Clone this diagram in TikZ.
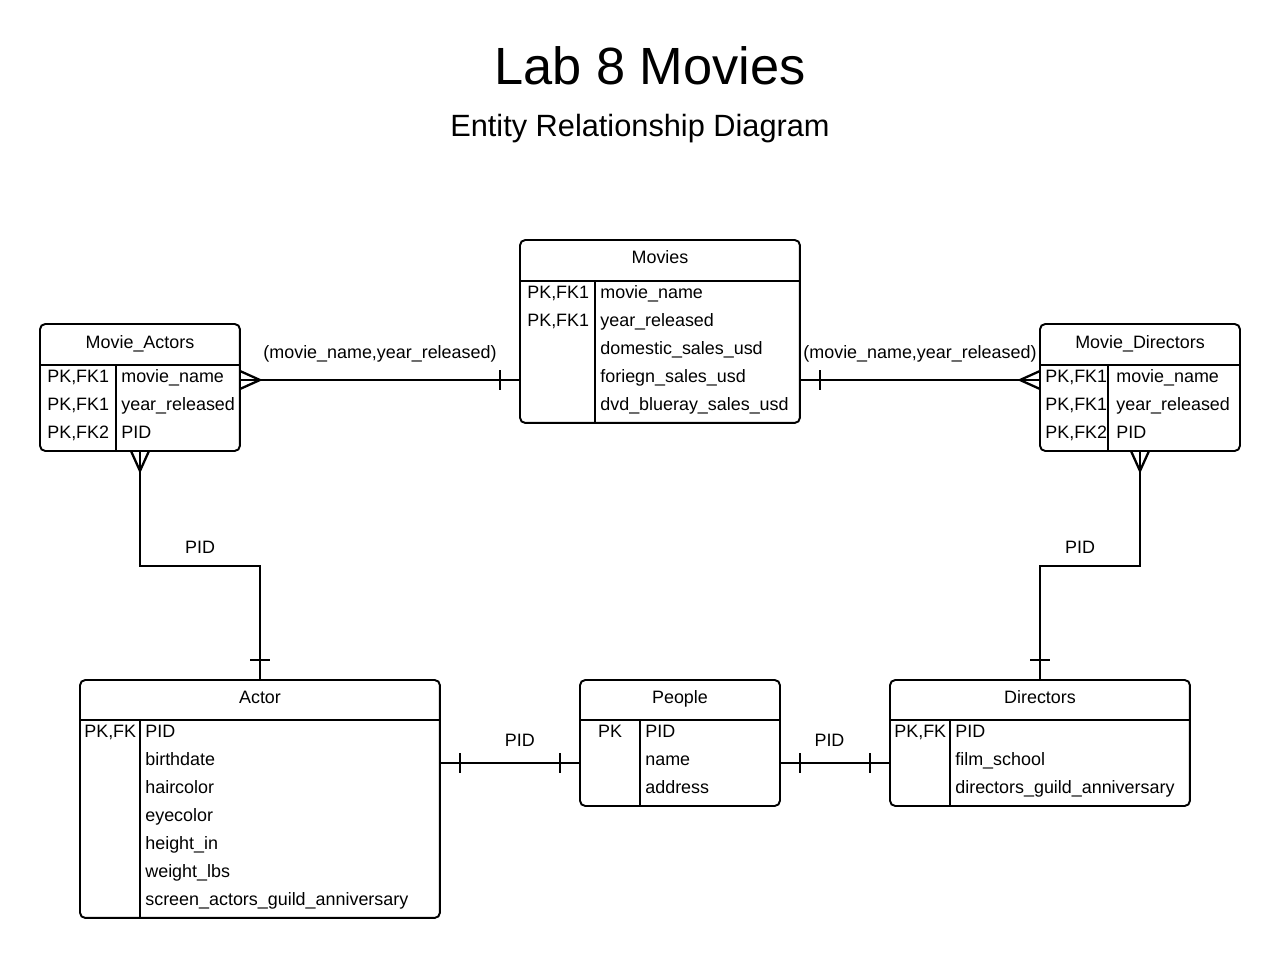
\documentclass[tikz,border=0pt]{standalone}
\usepackage{fontspec}
\setmainfont{Liberation Sans}
\newcommand{\rowfont}{\fontsize{10.2}{12}\selectfont}
\tikzset{Table/.style={%
    shape=rectangle,%
    draw=black,%
    rounded corners=3pt,%
    line width=1.1pt,%
    inner sep=0pt,%
    outer sep=0pt,%
    anchor=north west,%
}}
\tikzset{Rule/.style={%
    line width=1.1pt,%
}}
\tikzset{Head/.style={%
    anchor=base,%
    inner sep=0pt,%
    font=\rowfont,%
}}
\tikzset{Field/.style={%
    anchor=base west,%
    inner sep=0pt,%
    font=\rowfont,%
}}
\tikzset{Link/.style={%
    line width=1.3pt,%
}}
\tikzset{Label/.style={%
    inner sep=0pt,%
    text depth=0pt,%
    font=\rowfont,%
}}
\tikzset{onemark/.pic={\draw[Link] (0,-10) -- (0,10);}}
\tikzset{crowmark/.pic={\draw[Link] (0,-9) -- (20,0) -- (0,9);}}

\begin{document}
\begin{tikzpicture}[x=0.02cm,y=-0.02cm]
    \useasboundingbox (0,0) rectangle (1280,959);
    \node[anchor=base, font=\fontsize{29.8}{34}\selectfont] (title) at (650,85) {Lab 8 Movies};
    \node[anchor=base, font=\fontsize{17.5}{20}\selectfont] (subtitle) at (640,137) {Entity Relationship Diagram};

    % Movies
    \node[Table, minimum width=5.6cm, minimum height=3.66cm] (movies) at (520,240) {};
    \draw[Rule] (520,281) -- (800,281);
    \draw[Rule] (595,281) -- (595,423);
    \node[Head] (moviesHead) at (660,264) {Movies};
    \node[Field] (mvK1) at (527,298) {PK,FK1};
    \node[Field] (mvK2) at (527,326) {PK,FK1};
    \node[Field] (mvF1) at (600,298) {movie\_name};
    \node[Field] (mvF2) at (600,326) {year\_released};
    \node[Field] (mvF3) at (600,354) {domestic\_sales\_usd};
    \node[Field] (mvF4) at (600,382) {foriegn\_sales\_usd};
    \node[Field] (mvF5) at (600,410) {dvd\_blueray\_sales\_usd};

    % Movie_Actors
    \node[Table, minimum width=4cm, minimum height=2.54cm] (ma) at (40,324) {};
    \draw[Rule] (40,365) -- (240,365);
    \draw[Rule] (116,365) -- (116,451);
    \node[Head] (maHead) at (140,348) {Movie\_Actors};
    \node[Field] (maK1) at (47,382) {PK,FK1};
    \node[Field] (maK2) at (47,410) {PK,FK1};
    \node[Field] (maK3) at (47,438) {PK,FK2};
    \node[Field] (maF1) at (121,382) {movie\_name};
    \node[Field] (maF2) at (121,410) {year\_released};
    \node[Field] (maF3) at (121,438) {PID};

    % Movie_Directors
    \node[Table, minimum width=4cm, minimum height=2.54cm] (md) at (1040,324) {};
    \draw[Rule] (1040,365) -- (1240,365);
    \draw[Rule] (1108,365) -- (1108,451);
    \node[Head] (mdHead) at (1140,348) {Movie\_Directors};
    \node[Field] (mdK1) at (1045,382) {PK,FK1};
    \node[Field] (mdK2) at (1045,410) {PK,FK1};
    \node[Field] (mdK3) at (1045,438) {PK,FK2};
    \node[Field] (mdF1) at (1116,382) {movie\_name};
    \node[Field] (mdF2) at (1116,410) {year\_released};
    \node[Field] (mdF3) at (1116,438) {PID};

    % Actor
    \node[Table, minimum width=7.2cm, minimum height=4.76cm] (actor) at (80,680) {};
    \draw[Rule] (80,720) -- (440,720);
    \draw[Rule] (140,720) -- (140,918);
    \node[Head] (actorHead) at (260,703) {Actor};
    \node[Field] (acK1) at (84,737) {PK,FK};
    \node[Field] (acF1) at (145,737) {PID};
    \node[Field] (acF2) at (145,765) {birthdate};
    \node[Field] (acF3) at (145,793) {haircolor};
    \node[Field] (acF4) at (145,821) {eyecolor};
    \node[Field] (acF5) at (145,849) {height\_in};
    \node[Field] (acF6) at (145,877) {weight\_lbs};
    \node[Field] (acF7) at (145,905) {screen\_actors\_guild\_anniversary};

    % People
    \node[Table, minimum width=4cm, minimum height=2.52cm] (people) at (580,680) {};
    \draw[Rule] (580,720) -- (780,720);
    \draw[Rule] (640,720) -- (640,806);
    \node[Head] (peopleHead) at (680,703) {People};
    \node[Head] (ppK1) at (610,737) {PK};
    \node[Field] (ppF1) at (645,737) {PID};
    \node[Field] (ppF2) at (645,765) {name};
    \node[Field] (ppF3) at (645,793) {address};

    % Directors
    \node[Table, minimum width=6cm, minimum height=2.52cm] (directors) at (890,680) {};
    \draw[Rule] (890,720) -- (1190,720);
    \draw[Rule] (950,720) -- (950,806);
    \node[Head] (directorsHead) at (1040,703) {Directors};
    \node[Field] (drK1) at (894,737) {PK,FK};
    \node[Field] (drF1) at (955,737) {PID};
    \node[Field] (drF2) at (955,765) {film\_school};
    \node[Field] (drF3) at (955,793) {directors\_guild\_anniversary};

    % relationships
    \draw[Link] (ma.east |- 0,380) -- node[Label, above=11.5pt]{(movie\_name,year\_released)} (movies.west |- 0,380);
    \pic at (ma.east |- 0,380) {crowmark};
    \pic at (500,380) {onemark};

    \draw[Link] (movies.east |- 0,380) -- node[Label, above=11.5pt]{(movie\_name,year\_released)} (md.west |- 0,380);
    \pic at (820,380) {onemark};
    \pic[rotate=180] at (md.west |- 0,380) {crowmark};

    \draw[Link] (ma.south) |- node[Label, pos=1, above=6.5pt]{PID} (200,566) -| (actor.north);
    \pic[rotate=-90] at (ma.south) {crowmark};
    \pic[rotate=90] at (260,660) {onemark};

    \draw[Link] (md.south) |- node[Label, pos=1, above=6.5pt]{PID} (1080,566) -| (directors.north);
    \pic[rotate=-90] at (md.south) {crowmark};
    \pic[rotate=90] at (1040,660) {onemark};

    \draw[Link] (actor.east |- 0,763) -- node[Label, pos=0.57, above=9pt]{PID} (people.west |- 0,763);
    \pic at (460,763) {onemark};
    \pic at (560,763) {onemark};

    \draw[Link] (people.east |- 0,763) -- node[Label, pos=0.45, above=9pt]{PID} (directors.west |- 0,763);
    \pic at (800,763) {onemark};
    \pic at (870,763) {onemark};
\end{tikzpicture}
\end{document}
